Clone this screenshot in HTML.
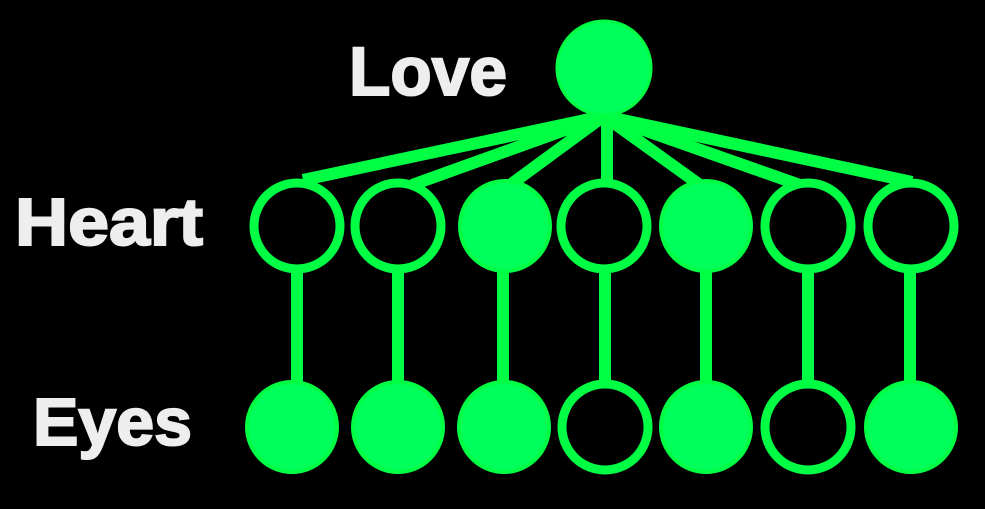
<!DOCTYPE html>
<html><head><style>html,body{margin:0;padding:0;background:#000;}svg{display:block}</style></head>
<body>
<svg width="985" height="509" viewBox="0 0 985 509" xmlns="http://www.w3.org/2000/svg">
<rect width="985" height="509" fill="#000"/>
<g stroke="#00ff44" stroke-width="12" stroke-linecap="butt">
<line x1="604" y1="116" x2="303" y2="180"/>
<line x1="604" y1="116" x2="412" y2="185"/>
<line x1="604" y1="116" x2="510" y2="185"/>
<line x1="607" y1="112" x2="607" y2="180"/>
<line x1="604" y1="116" x2="700" y2="185"/>
<line x1="604" y1="116" x2="800" y2="185"/>
<line x1="604" y1="116" x2="912" y2="182"/>
<line x1="297" y1="270" x2="297" y2="382"/>
<line x1="398" y1="270" x2="398" y2="382"/>
<line x1="503" y1="270" x2="503" y2="382"/>
<line x1="605" y1="270" x2="605" y2="382"/>
<line x1="706" y1="270" x2="706" y2="382"/>
<line x1="808" y1="270" x2="808" y2="382"/>
<line x1="910" y1="270" x2="910" y2="382"/>
</g>
<circle cx="604" cy="68" r="47" fill="#00ff5a" stroke="#00ff44" stroke-width="3"/>
<g stroke="#00ff44" stroke-width="9" fill="#000">
<circle cx="297" cy="226" r="43"/>
<circle cx="398" cy="226" r="43"/>
<circle cx="505" cy="226" r="45" fill="#00ff5a" stroke-width="4"/>
<circle cx="604" cy="226" r="43"/>
<circle cx="706" cy="226" r="45" fill="#00ff5a" stroke-width="4"/>
<circle cx="808" cy="226" r="43"/>
<circle cx="911" cy="226" r="43"/>
<circle cx="292" cy="427" r="45" fill="#00ff5a" stroke-width="4"/>
<circle cx="398" cy="427" r="45" fill="#00ff5a" stroke-width="4"/>
<circle cx="504" cy="427" r="45" fill="#00ff5a" stroke-width="4"/>
<circle cx="605" cy="427" r="43"/>
<circle cx="706" cy="427" r="45" fill="#00ff5a" stroke-width="4"/>
<circle cx="808" cy="427" r="43"/>
<circle cx="911" cy="427" r="45" fill="#00ff5a" stroke-width="4"/>
</g>
<g font-family="Liberation Sans, sans-serif" font-weight="bold" fill="#eeeeee" stroke="#eeeeee" stroke-width="2" lengthAdjust="spacingAndGlyphs">
<text x="349" y="95" font-size="69" textLength="158" lengthAdjust="spacingAndGlyphs">Love</text>
<text x="15" y="245" font-size="67" textLength="188" lengthAdjust="spacingAndGlyphs">Heart</text>
<text x="33" y="445" font-size="67" textLength="159" lengthAdjust="spacingAndGlyphs">Eyes</text>
</g>
</svg>
</body></html>
